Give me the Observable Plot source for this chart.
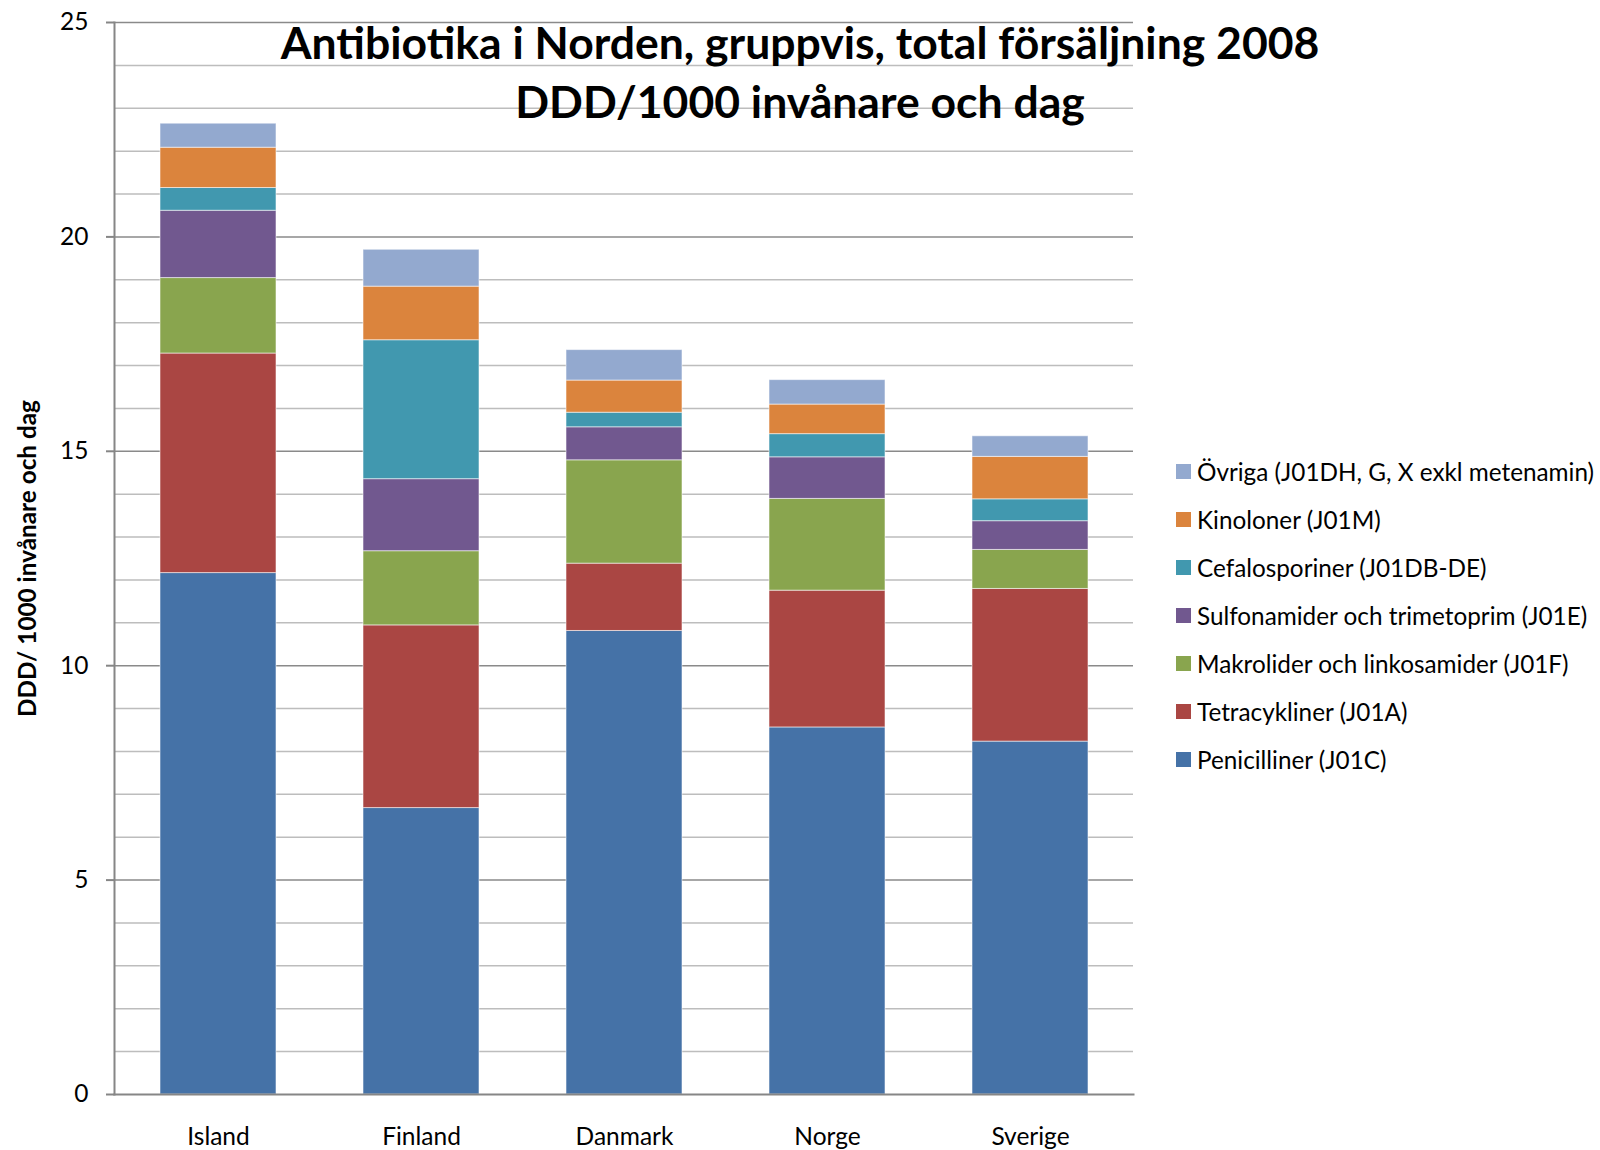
<!DOCTYPE html>
<html>
<head>
<meta charset="utf-8">
<script src="https://cdn.jsdelivr.net/npm/d3@7"></script>
<script src="https://cdn.jsdelivr.net/npm/@observablehq/plot@0.6"></script>
<style>
  html, body { margin: 0; padding: 0; background: #fff; }
  #wrap { position: relative; width: 1600px; height: 1150px; font-family: Lato, "Open Sans", sans-serif; }
  #wrap svg { position: absolute; left: 0; top: 0; }
  .title { position: absolute; left: 0; width: 1600px; text-align: center; font-weight: bold; font-size: 44.5px; line-height: 44px; color: #000; white-space: nowrap; }
  #legend { position: absolute; left: 1176px; top: 447px; }
  .item { display: flex; align-items: center; height: 48px; font-size: 24.3px; color: #000; white-space: nowrap; }
  .sw { width: 15px; height: 15px; margin-right: 6px; flex: none; }
</style>
</head>
<body>
<div id="wrap"></div>
<script>
const countries = ["Island", "Finland", "Danmark", "Norge", "Sverige"];
const groups = [
  "Penicilliner (J01C)",
  "Tetracykliner (J01A)",
  "Makrolider och linkosamider (J01F)",
  "Sulfonamider och trimetoprim (J01E)",
  "Cefalosporiner (J01DB-DE)",
  "Kinoloner (J01M)",
  "Övriga (J01DH, G, X exkl metenamin)"
];
const penicilliner   = [12.16, 6.68, 10.81, 8.56, 8.23];
const tetracykliner  = [5.12, 4.26, 1.57, 3.19, 3.56];
const makrolider     = [1.76, 1.73, 2.41, 2.14, 0.91];
const sulfonamider   = [1.57, 1.68, 0.77, 0.97, 0.67];
const cefalosporiner = [0.53, 3.24, 0.34, 0.54, 0.51];
const kinoloner      = [0.94, 1.25, 0.75, 0.69, 0.99];
const ovriga         = [0.56, 0.86, 0.71, 0.57, 0.48];
const colors = ["#4572A7", "#AA4643", "#89A54E", "#71588F", "#4198AF", "#DB843D", "#93A9CF"];
const yTicks = [0, 5, 10, 15, 20, 25];
const yMinor = [1, 2, 3, 4, 6, 7, 8, 9, 11, 12, 13, 14, 16, 17, 18, 19, 21, 22, 23, 24];
const titleLines = ["Antibiotika i Norden, gruppvis, total försäljning 2008", "DDD/1000 invånare och dag"];
const yLabel = "DDD/ 1000 invånare och dag";

const series = [penicilliner, tetracykliner, makrolider, sulfonamider, cefalosporiner, kinoloner, ovriga];
const rows = [];
series.forEach((vals, gi) => vals.forEach((v, ci) => rows.push({country: countries[ci], group: groups[gi], value: v})));

const chart = Plot.plot({
  width: 1600,
  height: 1150,
  marginLeft: 114,
  marginRight: 467,
  marginTop: 22,
  marginBottom: 56,
  style: {fontFamily: "Lato, 'Open Sans', sans-serif", fontSize: "24.5px", color: "#000", background: "transparent"},
  x: {domain: countries, paddingInner: 0.43, paddingOuter: 0.215, label: null},
  y: {domain: [0, 25], label: null},
  color: {domain: groups, range: colors},
  marks: [
    Plot.ruleY(yMinor, {stroke: "#bdbdbd", strokeWidth: 1.5}),
    Plot.ruleY(yTicks.slice(1), {stroke: "#8a8a8a", strokeWidth: 1.5}),
    Plot.barY(rows, {x: "country", y: "value", fill: "group", stroke: "#ffffff", strokeOpacity: 0.55, strokeWidth: 1}),
    Plot.frame({anchor: "left", stroke: "#868686", strokeWidth: 2}),
    Plot.frame({anchor: "bottom", stroke: "#868686", strokeWidth: 2}),
    Plot.axisY({ticks: yTicks, tickSize: 8, tickPadding: 18, stroke: "#868686", strokeWidth: 2, strokeOpacity: 1, label: null, fontSize: 24.5}),
    Plot.axisX({tickSize: 0, tickPadding: 33, label: null, fontSize: 24.5}),
    Plot.text([yLabel], {frameAnchor: "left", rotate: -90, dx: -86, textAnchor: "middle", fontWeight: "bold", fontSize: 24.3, fill: "#000"})
  ]
});

const wrap = document.getElementById("wrap");
wrap.appendChild(chart);

titleLines.forEach((t, i) => {
  const d = document.createElement("div");
  d.className = "title";
  d.style.top = (20 + i * 59) + "px";
  d.textContent = t;
  wrap.appendChild(d);
});

const legend = document.createElement("div");
legend.id = "legend";
groups.slice().reverse().forEach((g) => {
  const it = document.createElement("div");
  it.className = "item";
  const sw = document.createElement("span");
  sw.className = "sw";
  sw.style.background = colors[groups.indexOf(g)];
  const tx = document.createElement("span");
  tx.textContent = g;
  it.appendChild(sw);
  it.appendChild(tx);
  legend.appendChild(it);
});
wrap.appendChild(legend);
</script>
</body>
</html>
